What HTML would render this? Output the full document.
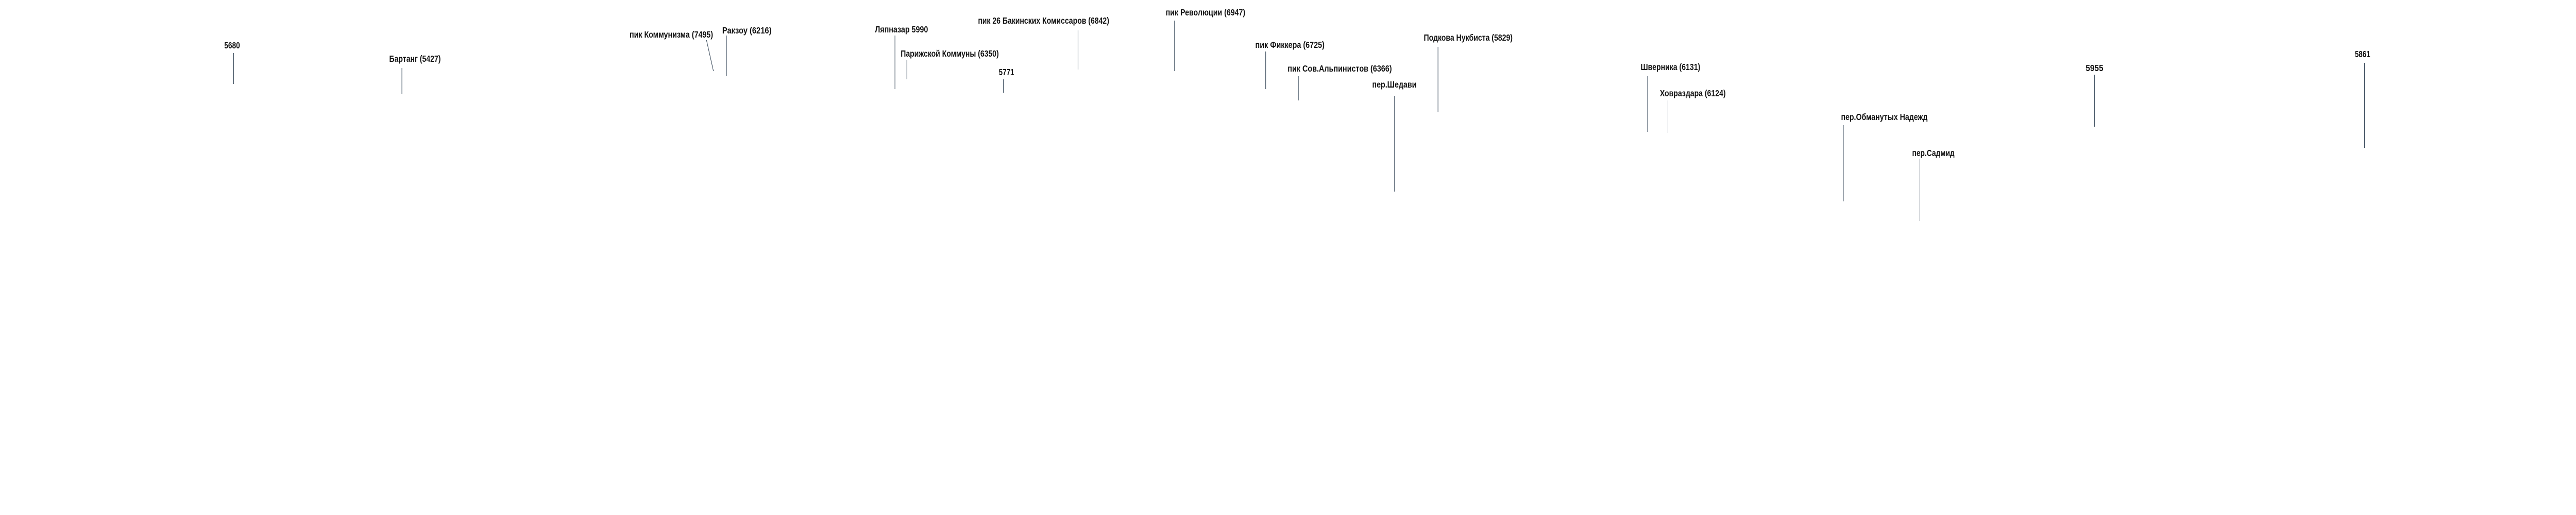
<!DOCTYPE html>
<html><head><meta charset="utf-8">
<style>
html,body{margin:0;padding:0;background:#fff;width:100%;height:100%;overflow:hidden;}
svg{display:block;width:100vw;height:100vh;}
text{font-family:"Liberation Sans",Arial,sans-serif;font-weight:bold;font-size:18px;fill:#111;}
line{stroke:#2c3e50;stroke-width:1.3;}
</style></head>
<body>
<svg viewBox="0 0 6698 1000" preserveAspectRatio="none" xmlns="http://www.w3.org/2000/svg">
<rect width="6698" height="1000" fill="#fff"/>

<text x="583" y="94" textLength="41" lengthAdjust="spacingAndGlyphs">5680</text>
<line x1="607.5" y1="103" x2="607.5" y2="163"/>

<text x="1012" y="120" textLength="134" lengthAdjust="spacingAndGlyphs">Бартанг (5427)</text>
<line x1="1045" y1="132" x2="1045" y2="183"/>

<text x="1637" y="73" textLength="217" lengthAdjust="spacingAndGlyphs">пик Коммунизма (7495)</text>
<line x1="1837" y1="78" x2="1855" y2="138"/>

<text x="1878" y="65" textLength="128" lengthAdjust="spacingAndGlyphs">Ракзоу (6216)</text>
<line x1="1889" y1="69" x2="1889" y2="148"/>

<text x="2275" y="63" textLength="138" lengthAdjust="spacingAndGlyphs">Ляпназар 5990</text>
<line x1="2327" y1="69" x2="2327" y2="173"/>

<text x="2342" y="110" textLength="255" lengthAdjust="spacingAndGlyphs">Парижской Коммуны (6350)</text>
<line x1="2358" y1="116" x2="2358" y2="154"/>

<text x="2543" y="46" textLength="341" lengthAdjust="spacingAndGlyphs">пик 26 Бакинских Комиссаров (6842)</text>
<line x1="2803" y1="59" x2="2803" y2="135"/>

<text x="2597" y="146">5771</text>
<line x1="2609" y1="154" x2="2609" y2="180"/>

<text x="3031" y="30" textLength="207" lengthAdjust="spacingAndGlyphs">пик Революции (6947)</text>
<line x1="3054" y1="40" x2="3054" y2="138"/>

<text x="3264" y="93" textLength="180" lengthAdjust="spacingAndGlyphs">пик Фиккера (6725)</text>
<line x1="3291" y1="100" x2="3291" y2="173"/>

<text x="3348" y="139" textLength="271" lengthAdjust="spacingAndGlyphs">пик Сов.Альпинистов (6366)</text>
<line x1="3376" y1="148" x2="3376" y2="195"/>

<text x="3568" y="170" textLength="115" lengthAdjust="spacingAndGlyphs">пер.Шедави</text>
<line x1="3626" y1="186" x2="3626" y2="372"/>

<text x="3702" y="79" textLength="231" lengthAdjust="spacingAndGlyphs">Подкова Нукбиста (5829)</text>
<line x1="3739" y1="91" x2="3739" y2="218"/>

<text x="4266" y="136" textLength="155" lengthAdjust="spacingAndGlyphs">Шверника (6131)</text>
<line x1="4284" y1="148" x2="4284" y2="256"/>

<text x="4316" y="187" textLength="171" lengthAdjust="spacingAndGlyphs">Ховраздара (6124)</text>
<line x1="4337" y1="195" x2="4337" y2="258"/>

<text x="4787" y="233" textLength="225" lengthAdjust="spacingAndGlyphs">пер.Обманутых Надежд</text>
<line x1="4793" y1="243" x2="4793" y2="391"/>

<text x="4972" y="303" textLength="110" lengthAdjust="spacingAndGlyphs">пер.Садмид</text>
<line x1="4992" y1="308" x2="4992" y2="429"/>

<text x="5423" y="138" textLength="46" lengthAdjust="spacingAndGlyphs">5955</text>
<line x1="5446" y1="145" x2="5446" y2="246"/>

<text x="6123" y="111" textLength="40" lengthAdjust="spacingAndGlyphs">5861</text>
<line x1="6148" y1="122" x2="6148" y2="287"/>
</svg>
</body></html>
